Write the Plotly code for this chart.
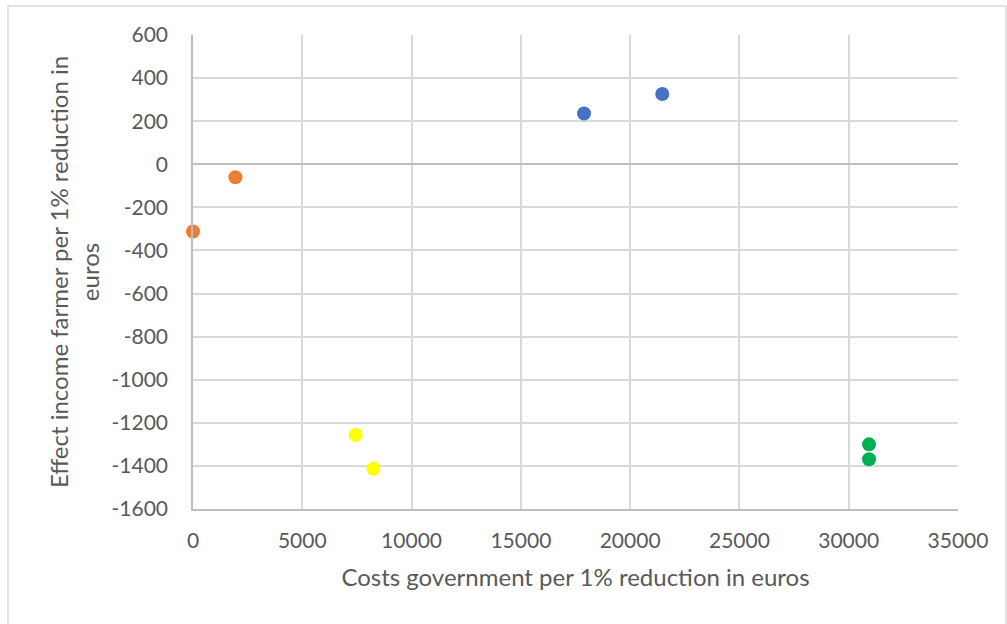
import plotly.graph_objects as go

# Data
orange_x = [0, 1940]
orange_y = [-312, -60]
blue_x = [17890, 21470]
blue_y = [236, 326]
yellow_x = [7440, 8250]
yellow_y = [-1256, -1413]
green_x = [30930, 30930]
green_y = [-1300, -1369]

x_ticks = [0, 5000, 10000, 15000, 20000, 25000, 30000, 35000]
y_ticks = [600, 400, 200, 0, -200, -400, -600, -800, -1000, -1200, -1400, -1600]

FONT = "Lato, 'Open Sans', sans-serif"
MS = 14

fig = go.Figure()
for xs, ys, col in [(orange_x, orange_y, "#ED7D31"), (blue_x, blue_y, "#4472C4"),
                    (yellow_x, yellow_y, "#FFFF00"), (green_x, green_y, "#00B050")]:
    fig.add_trace(go.Scatter(x=xs, y=ys, mode="markers", cliponaxis=False,
                             marker=dict(color=col, size=MS, line=dict(width=0)),
                             showlegend=False))

fig.update_layout(
    width=1007, height=624,
    margin=dict(l=193, r=49, t=35, b=115),
    paper_bgcolor="white", plot_bgcolor="white",
    font=dict(family=FONT, color="#595959", size=21),
    xaxis=dict(range=[0, 35000], tickvals=x_ticks, ticktext=[str(v) for v in x_ticks],
               showgrid=True, gridcolor="#d9d9d9", gridwidth=1.5,
               showline=True, linecolor="#bfbfbf", linewidth=1.5, mirror=False,
               zeroline=False, ticks="", ticklabelstandoff=12,
               tickfont=dict(size=21, color="#595959"),
               title=dict(text="Costs government per 1% reduction in euros",
                          font=dict(size=24, color="#595959"), standoff=18)),
    yaxis=dict(range=[-1600, 600], tickvals=y_ticks, ticktext=[str(v) for v in y_ticks],
               showgrid=True, gridcolor="#d9d9d9", gridwidth=1.5,
               showline=True, linecolor="#bfbfbf", linewidth=1.5,
               zeroline=True, zerolinecolor="#bfbfbf", zerolinewidth=1.5,
               ticks="", ticklabelstandoff=19,
               tickfont=dict(size=21, color="#595959"),
               title=dict(text="Effect income farmer per 1% reduction in<br>euros",
                          font=dict(size=24, color="#595959"), standoff=5)),
    shapes=[dict(type="rect", xref="paper", yref="paper",
                 x0=-0.2418, x1=1.0627, y0=-0.35, y1=1.0612,
                 line=dict(color="#d9d9d9", width=1.5), fillcolor="rgba(0,0,0,0)", layer="below")],
)

fig.write_html("out.html")
